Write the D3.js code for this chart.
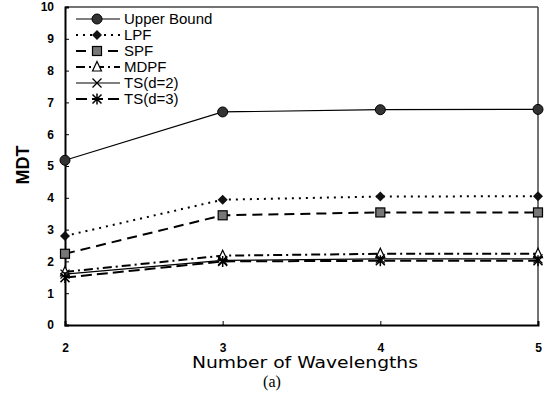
<!DOCTYPE html>
<html><head><meta charset="utf-8">
<script src="https://cdn.jsdelivr.net/npm/d3@7"></script>
<style>body{margin:0;background:#fff}svg{display:block}</style>
</head><body>
<script>
const categories = [2, 3, 4, 5];
const upperBound = [5.18, 6.70, 6.77, 6.78];
const lpf = [2.80, 3.94, 4.04, 4.05];
const spf = [2.24, 3.45, 3.54, 3.54];
const mdpf = [1.67, 2.18, 2.24, 2.24];
const tsD2 = [1.60, 2.03, 2.08, 2.08];
const tsD3 = [1.49, 2.00, 2.02, 2.02];
const yTicks = [0,1,2,3,4,5,6,7,8,9,10];
const seriesNames = ["Upper Bound","LPF","SPF","MDPF","TS(d=2)","TS(d=3)"];

const series = [
  {name: seriesNames[0], values: upperBound, dash: null, marker: "circle"},
  {name: seriesNames[1], values: lpf, dash: "2,5", marker: "diamond"},
  {name: seriesNames[2], values: spf, dash: "10,6", marker: "square"},
  {name: seriesNames[3], values: mdpf, dash: "9,4,2,4", marker: "triangle"},
  {name: seriesNames[4], values: tsD2, dash: null, marker: "x"},
  {name: seriesNames[5], values: tsD3, dash: "11,5", marker: "star"}
];

const W = 547, H = 409;
const L = 65, R = 538, T = 7, B = 325;
const svg = d3.select("body").append("svg").attr("width", W).attr("height", H);
const x = d3.scaleLinear().domain([2,5]).range([L,R]);
const y = d3.scaleLinear().domain([0,10]).range([B,T]);
const font = "'Liberation Sans', Arial, sans-serif";
const font2 = "'DejaVu Sans', sans-serif";

// frame top/right
svg.append("line").attr("x1",L).attr("x2",R).attr("y1",T).attr("y2",T).attr("stroke","#444").attr("stroke-width",1.5);
svg.append("line").attr("x1",R).attr("x2",R).attr("y1",T).attr("y2",B).attr("stroke","#444").attr("stroke-width",1.5);

// y axis
const yAxis = svg.append("g").attr("transform",`translate(${L},0)`)
  .call(d3.axisLeft(y).tickValues(yTicks).tickSize(-4).tickPadding(11).tickFormat(d3.format("d")));
yAxis.select(".domain").attr("stroke","#000").attr("stroke-width",2);
yAxis.selectAll(".tick line").attr("stroke","#000");
yAxis.selectAll("text").attr("font-family",font).attr("font-size",12).attr("font-weight","bold").attr("fill","#000");

// x axis
const xAxis = svg.append("g").attr("transform",`translate(0,${B})`)
  .call(d3.axisBottom(x).tickValues(categories).tickSize(-4).tickPadding(18).tickFormat(d3.format("d")));
xAxis.select(".domain").attr("stroke","#000").attr("stroke-width",2);
xAxis.selectAll(".tick line").attr("stroke","#000");
xAxis.selectAll("text").attr("font-family",font).attr("font-size",12).attr("font-weight","bold").attr("fill","#000");

// markers
function drawMarker(g, type, cx, cy) {
  if (type === "circle") g.append("circle").attr("cx",cx).attr("cy",cy).attr("r",5).attr("fill","#333").attr("stroke","#000");
  else if (type === "diamond") g.append("path").attr("d",`M${cx},${cy-5}L${cx+5},${cy}L${cx},${cy+5}L${cx-5},${cy}Z`).attr("fill","#111");
  else if (type === "square") g.append("rect").attr("x",cx-4.5).attr("y",cy-4.5).attr("width",9).attr("height",9).attr("fill","#777").attr("stroke","#000").attr("stroke-width",1.2);
  else if (type === "triangle") g.append("path").attr("d",`M${cx},${cy-5.5}L${cx+4.5},${cy+4}L${cx-4.5},${cy+4}Z`).attr("fill","#fff").attr("stroke","#000").attr("stroke-width",1.2);
  else if (type === "x") g.append("path").attr("d",`M${cx-4.5},${cy-4.5}L${cx+4.5},${cy+4.5}M${cx-4.5},${cy+4.5}L${cx+4.5},${cy-4.5}`).attr("stroke","#000").attr("stroke-width",1.3);
  else if (type === "star") g.append("path").attr("d",`M${cx-4.5},${cy-4.5}L${cx+4.5},${cy+4.5}M${cx-4.5},${cy+4.5}L${cx+4.5},${cy-4.5}M${cx},${cy-5.5}L${cx},${cy+5.5}`).attr("stroke","#000").attr("stroke-width",1.5);
}

const line = d3.line().x((d,i)=>x(categories[i])).y(d=>y(d));
series.forEach(s => {
  const g = svg.append("g");
  g.append("path").attr("d", line(s.values)).attr("fill","none").attr("stroke","#000")
    .attr("stroke-width", s.marker==="circle"||s.marker==="x" ? 1.2 : 2)
    .attr("stroke-dasharray", s.dash);
  s.values.forEach((v,i)=>drawMarker(g, s.marker, x(categories[i]), y(v)));
});

// legend
series.forEach((s,i) => {
  const ly = 19 + i*16;
  const g = svg.append("g");
  g.append("line").attr("x1",76).attr("x2",120).attr("y1",ly).attr("y2",ly).attr("stroke","#000")
    .attr("stroke-width", s.marker==="circle"||s.marker==="x" ? 1.2 : 2).attr("stroke-dasharray", s.dash);
  drawMarker(g, s.marker, 97, ly);
  g.append("text").attr("x",124).attr("y",ly+5).text(s.name).attr("font-family",font).attr("font-size",15).attr("fill","#000");
});

// titles
svg.append("text").attr("x",305).attr("y",368).attr("text-anchor","middle").text("Number of Wavelengths")
  .attr("font-family",font2).attr("font-size",16).attr("textLength",226).attr("lengthAdjust","spacingAndGlyphs").attr("fill","#000");
svg.append("text").attr("transform","translate(29,165) rotate(-90)").attr("text-anchor","middle").text("MDT")
  .attr("font-family",font).attr("font-size",18).attr("font-weight","bold").attr("fill","#000");
svg.append("text").attr("x",272).attr("y",387).attr("text-anchor","middle").text("(a)")
  .attr("font-family","'Liberation Serif', 'Times New Roman', serif").attr("font-size",16).attr("fill","#000");
</script>
</body></html>
